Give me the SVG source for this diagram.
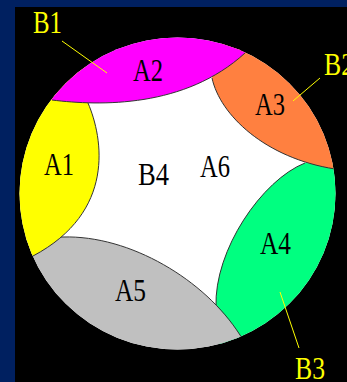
<svg xmlns="http://www.w3.org/2000/svg" width="347" height="382" viewBox="0 0 347 382">
<style>
.edge{fill:none;stroke:#333;stroke-width:1}
.lbl{font-family:"Liberation Serif","DejaVu Serif",serif;font-size:32px}
.a{fill:#000}
.b{fill:#ffff00}
.lead{stroke:#ffff00;stroke-width:1;fill:none}
</style>
<defs>
<clipPath id="disc"><ellipse cx="177.5" cy="193.5" rx="158" ry="156"/></clipPath>
</defs>
<rect x="0" y="0" width="347" height="382" fill="#002060"/>
<rect x="15" y="7" width="332" height="375" fill="#000"/>
<ellipse id="disc-bg" cx="177.5" cy="193.5" rx="158" ry="156" fill="#fff"/>
<g clip-path="url(#disc)">
<g id="A4">
<path d="M345,165 L305,163 C262,180 214,250 216,307 L220,365 L345,365 Z" fill="#00ff80"/>
<path class="edge" d="M305,163 C262,180 214,250 216,307 L217,330"/>
</g>
<g id="A3">
<path d="M212,78 C220,115 265,158 335,169 L360,173 L360,10 L230,10 Z" fill="#ff8040"/>
<path class="edge" d="M212,78 C220,115 265,158 335,169 L345,171"/>
</g>
<g id="A5">
<path d="M10,237 L63,237 C130,235 205,280 240,335 L260,365 L10,365 Z" fill="#c0c0c0"/>
<path class="edge" d="M40,237 L63,237 C130,235 205,280 240,335 L250,350"/>
</g>
<g id="A1">
<path d="M85,60 L88,103 C103,138 116,212 33,256 L10,266 L10,60 Z" fill="#ffff00"/>
<path class="edge" d="M88,103 C103,138 116,212 33,256 L20,262"/>
</g>
<g id="A2">
<path d="M15,96 L52,100 C100,106 185,108 245,53 L275,25 L275,10 L15,10 Z" fill="#ff00ff"/>
<path class="edge" d="M52,100 C100,106 185,108 245,53"/>
</g>
</g>
<g id="labels-A">
<text class="lbl a" x="133" y="81" textLength="30" lengthAdjust="spacingAndGlyphs">A2</text>
<text class="lbl a" x="255" y="115" textLength="30" lengthAdjust="spacingAndGlyphs">A3</text>
<text class="lbl a" x="44" y="175" textLength="30" lengthAdjust="spacingAndGlyphs">A1</text>
<text class="lbl a" x="200" y="177" textLength="30" lengthAdjust="spacingAndGlyphs">A6</text>
<text class="lbl a" x="260" y="254" textLength="31" lengthAdjust="spacingAndGlyphs">A4</text>
<text class="lbl a" x="115" y="301" textLength="31" lengthAdjust="spacingAndGlyphs">A5</text>
</g>
<g id="B4"><text class="lbl a" x="138" y="185" textLength="31" lengthAdjust="spacingAndGlyphs">B4</text></g>
<g id="connectors">
<line class="lead" x1="62" y1="41" x2="107" y2="73"/>
<line class="lead" x1="320" y1="78" x2="293" y2="101"/>
<line class="lead" x1="280" y1="292" x2="299" y2="348"/>
</g>
<g id="B1"><text class="lbl b" x="33" y="33" textLength="29" lengthAdjust="spacingAndGlyphs">B1</text></g>
<g id="B2"><text class="lbl b" x="324" y="75" textLength="30" lengthAdjust="spacingAndGlyphs">B2</text></g>
<g id="B3"><text class="lbl b" x="295" y="379" textLength="30" lengthAdjust="spacingAndGlyphs">B3</text></g>
</svg>
